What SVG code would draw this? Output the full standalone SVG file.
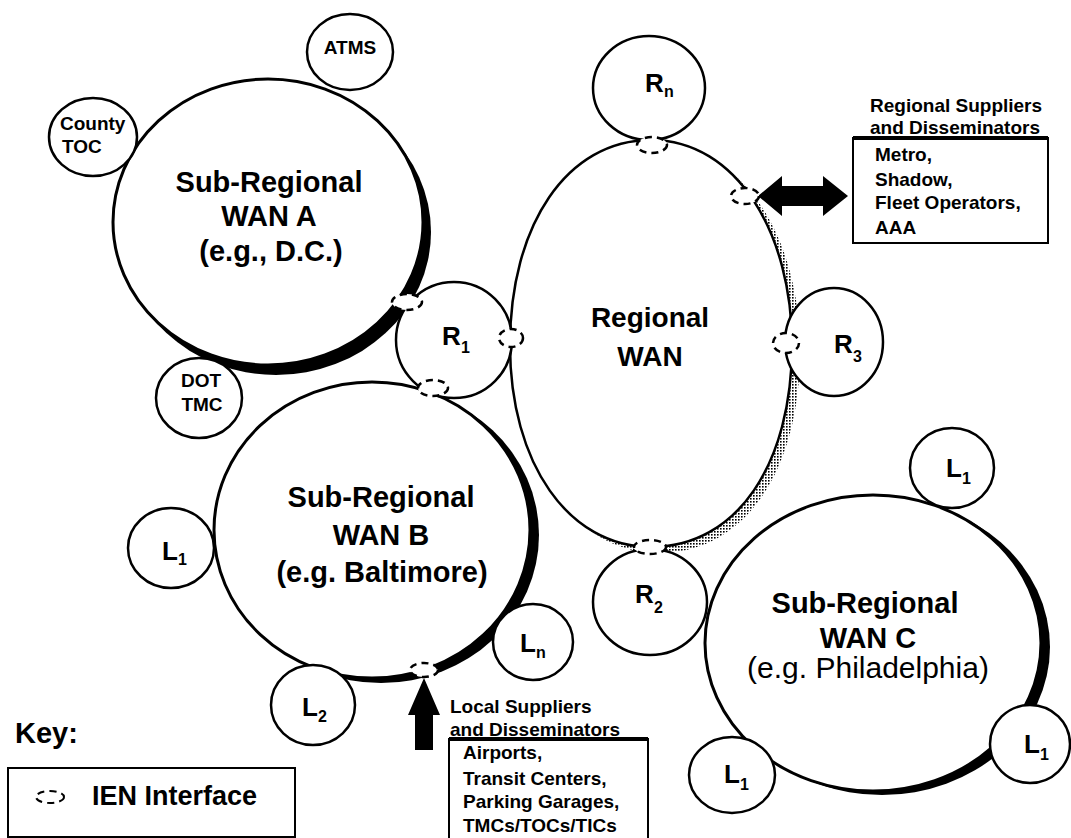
<svg xmlns="http://www.w3.org/2000/svg" width="1071" height="838" viewBox="0 0 1071 838">
<defs>
<pattern id="stip" width="3" height="3" patternUnits="userSpaceOnUse"><rect width="3" height="3" fill="#fff"/><rect width="1.6" height="1.6" fill="#000"/></pattern>
<style>
.c{fill:#fff;stroke:#000;stroke-width:2.5}
.big{fill:#fff;stroke:#000;stroke-width:3}
.sh{fill:#000}
.t{font-family:"Liberation Sans",Arial,Helvetica,sans-serif;font-weight:bold;fill:#000}
.n{font-weight:normal}
.lab{font-size:26px}
.sub{font-size:16px}
.big-t{font-size:29px;text-anchor:middle}
.sm{font-size:19px}
.ien{fill:#fff;stroke:#000;stroke-width:2.5;stroke-dasharray:7 5}
.box{fill:#fff;stroke:#000;stroke-width:2}
</style>
</defs>
<rect width="1071" height="838" fill="#fff"/>

<g id="shadows">
<ellipse cx="276" cy="232" rx="155" ry="143" class="sh"/>
<ellipse cx="381" cy="535" rx="158" ry="148" class="sh"/>
<ellipse cx="882" cy="647" rx="168" ry="148" class="sh"/>
<path d="M 516 351 C 516 230 575 146 659 146 C 745 146 800 240 800 351 C 800 470 745 553 659 553 C 577 553 516 470 516 351 Z" fill="url(#stip)"/>
</g>

<g id="wan-a">
<ellipse cx="268" cy="222" rx="155" ry="143" class="big"/>
<text class="t big-t" x="269" y="192">Sub-Regional</text>
<text class="t big-t" x="269" y="226">WAN A</text>
<text class="t big-t" x="271" y="261">(e.g., D.C.)</text>
</g>
<g id="wan-b">
<ellipse cx="372" cy="530" rx="158" ry="148" class="big"/>
<text class="t big-t" x="381" y="507">Sub-Regional</text>
<text class="t big-t" x="381" y="545">WAN B</text>
<text class="t big-t" x="382" y="582">(e.g. Baltimore)</text>
</g>
<g id="wan-c">
<ellipse cx="873" cy="643" rx="168" ry="148" class="big"/>
<text class="t big-t" x="865" y="613">Sub-Regional</text>
<text class="t big-t" x="868" y="648">WAN C</text>
<text class="t big-t n" x="868" y="678" style="font-size:30px">(e.g. Philadelphia)</text>
</g>
<g id="regional-wan">
<path d="M 510 345 C 510 225 567 140 651 140 C 737 140 792 234 792 345 C 792 464 737 547 651 547 C 569 547 510 464 510 345 Z" class="c"/>
<text class="t" x="650" y="327" style="font-size:28px;text-anchor:middle">Regional</text>
<text class="t" x="650" y="366" style="font-size:28px;text-anchor:middle">WAN</text>
</g>

<g id="atms"><ellipse cx="350" cy="52" rx="43" ry="38" class="c"/><text class="t sm" x="350" y="54" text-anchor="middle">ATMS</text></g>
<g id="county-toc"><ellipse cx="93" cy="137" rx="44" ry="39" class="c"/><text class="t sm" x="60" y="130">County</text><text class="t sm" x="62" y="153">TOC</text></g>
<g id="dot-tmc"><ellipse cx="199" cy="398" rx="43" ry="40" class="c"/><text class="t sm" x="201" y="387" text-anchor="middle">DOT</text><text class="t sm" x="202" y="411" text-anchor="middle">TMC</text></g>
<g id="r1"><circle cx="454" cy="340" r="58" class="c"/><text class="t lab" x="442" y="345">R</text><text class="t sub" x="461" y="353">1</text></g>
<g id="rn"><ellipse cx="649" cy="88" rx="56" ry="52" class="c"/><text class="t lab" x="645" y="92">R</text><text class="t sub" x="664" y="97">n</text></g>
<g id="r3"><ellipse cx="834" cy="342" rx="49" ry="54" class="c"/><text class="t lab" x="834" y="353">R</text><text class="t sub" x="853" y="362">3</text></g>
<g id="r2"><ellipse cx="650" cy="602" rx="57" ry="53" class="c"/><text class="t lab" x="635" y="603">R</text><text class="t sub" x="654" y="613">2</text></g>
<g id="l1-b"><ellipse cx="171" cy="548" rx="43" ry="40" class="c"/><text class="t lab" x="162" y="560">L</text><text class="t sub" x="178" y="565">1</text></g>
<g id="ln-b"><ellipse cx="533" cy="642" rx="40" ry="38" class="c"/><text class="t lab" x="520" y="652">L</text><text class="t sub" x="536" y="658">n</text></g>
<g id="l2-b"><ellipse cx="313" cy="705" rx="42" ry="40" class="c"/><text class="t lab" x="302" y="716">L</text><text class="t sub" x="318" y="722">2</text></g>
<g id="l1-c-top"><ellipse cx="952" cy="468" rx="42" ry="40" class="c"/><text class="t lab" x="946" y="477">L</text><text class="t sub" x="962" y="484">1</text></g>
<g id="l1-c-right"><ellipse cx="1030" cy="744" rx="40" ry="39" class="c"/><text class="t lab" x="1024" y="753">L</text><text class="t sub" x="1040" y="760">1</text></g>
<g id="l1-c-left"><ellipse cx="732" cy="775" rx="43" ry="38" class="c"/><text class="t lab" x="724" y="783">L</text><text class="t sub" x="740" y="790">1</text></g>

<g id="regional-suppliers">
<text class="t sm" x="870" y="112">Regional Suppliers</text>
<text class="t sm" x="870" y="134">and Disseminators</text>
<rect x="853" y="138" width="195" height="105" class="box"/>
<line x1="853" y1="138" x2="1048" y2="138" stroke="#000" stroke-width="4"/>
<text class="t sm" x="875" y="161">Metro,</text>
<text class="t sm" x="875" y="186">Shadow,</text>
<text class="t sm" x="875" y="209">Fleet Operators,</text>
<text class="t sm" x="875" y="234">AAA</text>
</g>
<g id="local-suppliers">
<text class="t sm" x="450" y="713">Local Suppliers</text>
<text class="t sm" x="450" y="736">and Disseminators</text>
<rect x="449" y="739" width="199" height="120" class="box"/>
<line x1="449" y1="739" x2="648" y2="739" stroke="#000" stroke-width="4"/>
<text class="t sm" x="463" y="759">Airports,</text>
<text class="t sm" x="463" y="785">Transit Centers,</text>
<text class="t sm" x="463" y="808">Parking Garages,</text>
<text class="t sm" x="463" y="832">TMCs/TOCs/TICs</text>
</g>

<g id="connectors">
<polygon points="758,196 782,176 782,186 823,186 823,176 848,196 823,216 823,206 782,206 782,216" fill="#000"/>
<polygon points="424,678 408,715 415,715 415,750 433,750 433,715 440,715" fill="#000"/>
<ellipse cx="652" cy="145" rx="15" ry="8" class="ien"/>
<ellipse cx="745" cy="196" rx="14" ry="8" class="ien"/>
<ellipse cx="407" cy="302" rx="15" ry="8" class="ien"/>
<ellipse cx="511" cy="338" rx="12" ry="9" class="ien"/>
<ellipse cx="433" cy="388" rx="15" ry="8" class="ien"/>
<ellipse cx="786" cy="343" rx="13" ry="10" class="ien"/>
<ellipse cx="650" cy="547" rx="16" ry="7" class="ien"/>
<ellipse cx="424" cy="670" rx="14" ry="7" class="ien"/>
</g>

<g id="key">
<text class="t" x="15" y="743" style="font-size:29px">Key:</text>
<rect x="8" y="768" width="287" height="69" class="box"/>
<ellipse cx="50" cy="797" rx="14" ry="6" class="ien" style="stroke-width:2"/>
<text class="t" x="92" y="805" style="font-size:27px">IEN Interface</text>
</g>
</svg>
